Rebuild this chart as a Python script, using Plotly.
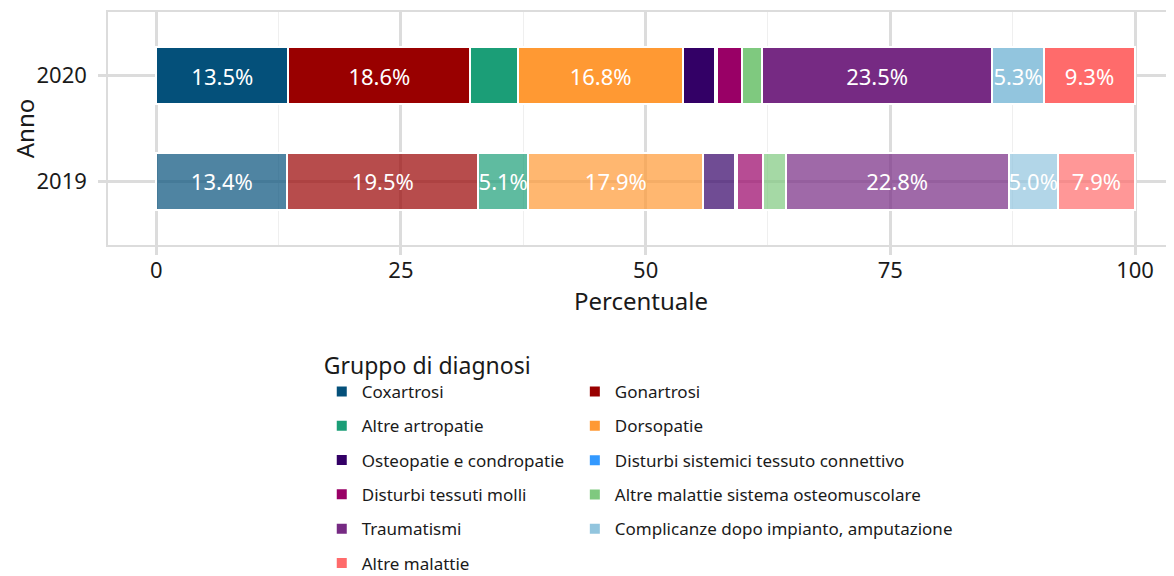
import plotly.graph_objects as go

years = ["2020", "2019"]
categories = [
    "Coxartrosi", "Gonartrosi", "Altre artropatie", "Dorsopatie",
    "Osteopatie e condropatie", "Disturbi sistemici tessuto connettivo",
    "Disturbi tessuti molli", "Altre malattie sistema osteomuscolare",
    "Traumatismi", "Complicanze dopo impianto, amputazione", "Altre malattie",
]
values_2020 = [13.5, 18.6, 4.9, 16.8, 3.3, 0.2, 2.5, 2.1, 23.5, 5.3, 9.3]
values_2019 = [13.4, 19.5, 5.1, 17.9, 3.2, 0.2, 2.7, 2.3, 22.8, 5.0, 7.9]
colors = [
    (4, 80, 122), (153, 0, 0), (27, 158, 119), (255, 153, 51),
    (51, 0, 102), (51, 153, 255), (153, 0, 102), (127, 201, 127),
    (118, 42, 131), (146, 197, 222), (255, 107, 107),
]
# column of the legend for each category (0 = left, 1 = right)
legend_col = [0, 1, 0, 1, 0, 1, 0, 1, 0, 1, 0]

FONT = "Noto Sans"
TXT = "#1a1a1a"
W, H = 1166, 568
L, T, PH = 100.3, 4, 233          # left margin, top margin, plot height
PW = W - L                         # plot width

fig = go.Figure()
for i, cat in enumerate(categories):
    r, g, b = colors[i]
    vals = [values_2020[i], values_2019[i]]
    texts = [f"{v:.1f}%" if v >= 5 else "" for v in vals]
    fig.add_trace(go.Bar(
        name=cat, y=years, x=vals, orientation="h",
        marker=dict(color=[f"rgb({r},{g},{b})", f"rgba({r},{g},{b},0.7)"],
                    line=dict(color="white", width=2)),
        width=0.53,
        text=texts, textposition="inside", insidetextanchor="middle",
        textangle=0, constraintext="none",
        textfont=dict(color="white", size=22, family=FONT),
        legend="legend" if legend_col[i] == 0 else "legend2",
        legendgroup=cat,
        hovertemplate="%{y}: %{x:.1f}%<extra>" + cat + "</extra>",
    ))


def px_x(screen_x):
    return (screen_x - 8 - L) / PW


def px_y(screen_y):
    return (T + PH - (screen_y - 8)) / PH


fig.update_layout(
    width=W, height=H,
    barmode="stack",
    plot_bgcolor="white", paper_bgcolor="white",
    margin=dict(l=L, r=0, t=T, b=H - T - PH, autoexpand=False),
    font=dict(family=FONT, color=TXT),
    xaxis=dict(
        range=[-4.93, -4.93 + PW / 9.785], tickvals=[0, 25, 50, 75, 100],
        showgrid=True, gridcolor="#dcdcdc", gridwidth=2.5,
        minor=dict(dtick=12.5, tick0=0, showgrid=True, gridcolor="#efefef", gridwidth=1),
        zeroline=False, automargin=True,
        ticks="outside", ticklen=8, tickwidth=2.5, tickcolor="#dcdcdc",
        tickfont=dict(size=22, color=TXT), ticklabelstandoff=-3,
        title=dict(text="Percentuale", font=dict(size=24, color=TXT), standoff=3),
        showline=True, linecolor="#dcdcdc", linewidth=1.5, mirror=True,
    ),
    yaxis=dict(
        type="category", categoryorder="array", categoryarray=["2019", "2020"],
        range=[-0.6, 1.6], automargin=True,
        showgrid=True, gridcolor="#dcdcdc", gridwidth=2.5,
        ticks="outside", ticklen=8, tickwidth=2.5, tickcolor="#dcdcdc",
        tickfont=dict(size=22, color=TXT), ticklabelstandoff=7,
        title=dict(text="Anno", font=dict(size=24, color=TXT), standoff=5),
        showline=True, linecolor="#dcdcdc", linewidth=1.5,
    ),
    legend=dict(
        x=px_x(322), xanchor="left", y=px_y(344), yanchor="top",
        orientation="v", traceorder="grouped",
        title=dict(text="Gruppo di diagnosi", font=dict(size=23, color=TXT)),
        font=dict(size=17, color=TXT), tracegroupgap=9.2,
        itemwidth=30,
    ),
    legend2=dict(
        x=px_x(575), xanchor="left", y=px_y(374), yanchor="top",
        orientation="v", traceorder="grouped",
        font=dict(size=17, color=TXT), tracegroupgap=9.2,
        itemwidth=30,
    ),
    showlegend=True,
)

fig.write_html("out.html")
